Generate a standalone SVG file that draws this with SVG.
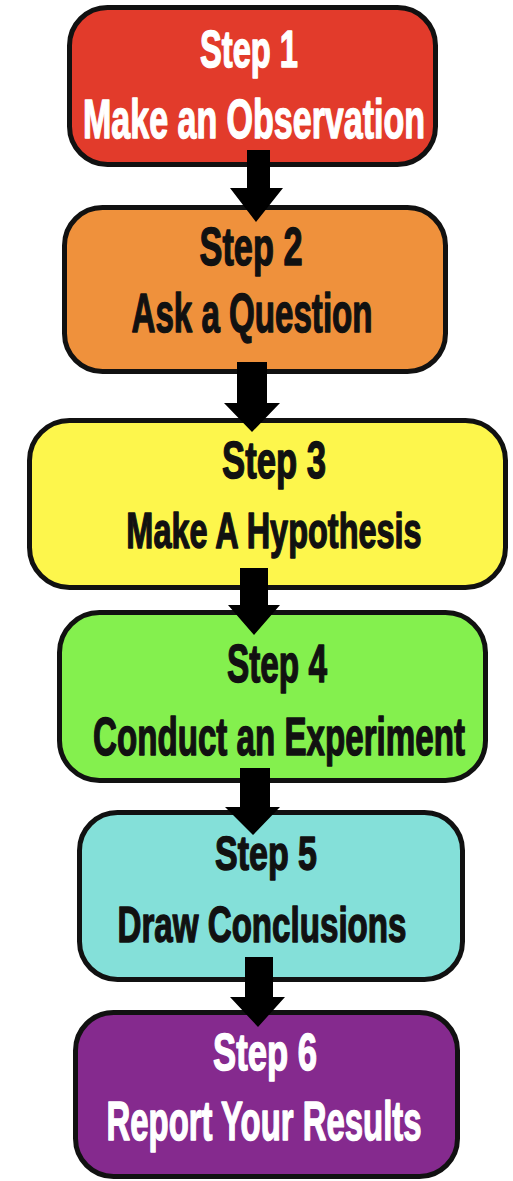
<svg xmlns="http://www.w3.org/2000/svg" width="513" height="1181" viewBox="0 0 513 1181">
<style>
.box{stroke:#111;stroke-width:5}
.t{font-family:"Liberation Sans",Arial,sans-serif;font-weight:bold;text-anchor:middle;stroke-width:1.4;stroke-linejoin:round}
.w{fill:#fff;stroke:#fff}
.k{fill:#111;stroke:#111}
.arr{fill:#000}
</style>
<rect width="513" height="1181" fill="#fff"/>
<g id="step1">
<rect class="box" x="69.5" y="7.5" width="366" height="157" rx="38" fill="#E23B2B"/>
</g>
<g id="step2">
<rect class="box" x="64.5" y="207.5" width="381" height="164" rx="38" fill="#EF913C"/>
</g>
<g id="step3">
<rect class="box" x="29.5" y="420.5" width="476" height="167" rx="40" fill="#FDF64C"/>
</g>
<g id="step4">
<rect class="box" x="59.5" y="612.5" width="426" height="168" rx="40" fill="#84F04E"/>
</g>
<g id="step5">
<rect class="box" x="79.5" y="812.5" width="383" height="167" rx="38" fill="#84E0D9"/>
</g>
<g id="step6">
<rect class="box" x="75.5" y="1012.5" width="382" height="164" rx="38" fill="#852A8E"/>
</g>
<g id="connectors">
<polygon class="arr" points="247,150 270,150 270,188 283,188 256,222 230,188 247,188"/>
<polygon class="arr" points="237,362 267,362 267,403 280,403 252,432 224,403 237,403"/>
<polygon class="arr" points="240,568 268,568 268,605 280,605 254,635 228,605 240,605"/>
<polygon class="arr" points="240,768 270,768 270,807 280,807 253,835 225,807 240,807"/>
<polygon class="arr" points="245,957 273,957 273,997 285,997 258,1027 230,997 245,997"/>
</g>
<g id="labels">
<text class="t w" transform="translate(249,67) scale(0.667,1.05)" font-size="49">Step 1</text>
<text class="t w" transform="translate(254,138) scale(0.654,1.05)" font-size="52">Make an Observation</text>
<text class="t k" transform="translate(251,265) scale(0.673,1.05)" font-size="51">Step 2</text>
<text class="t k" transform="translate(252,332) scale(0.625,1.05)" font-size="53">Ask a Question</text>
<text class="t k" transform="translate(274,478) scale(0.693,1.05)" font-size="50">Step 3</text>
<text class="t k" transform="translate(274,548) scale(0.691,1.05)" font-size="47">Make A Hypothesis</text>
<text class="t k" transform="translate(277,682) scale(0.654,1.05)" font-size="51">Step 4</text>
<text class="t k" transform="translate(279,755) scale(0.65,1.05)" font-size="51">Conduct an Experiment</text>
<text class="t k" transform="translate(266,870) scale(0.739,1.05)" font-size="46">Step 5</text>
<text class="t k" transform="translate(262,942) scale(0.705,1.05)" font-size="47">Draw Conclusions</text>
<text class="t w" transform="translate(265,1070) scale(0.707,1.05)" font-size="49">Step 6</text>
<text class="t w" transform="translate(264,1140) scale(0.621,1.05)" font-size="53">Report Your Results</text>
</g>
</svg>
